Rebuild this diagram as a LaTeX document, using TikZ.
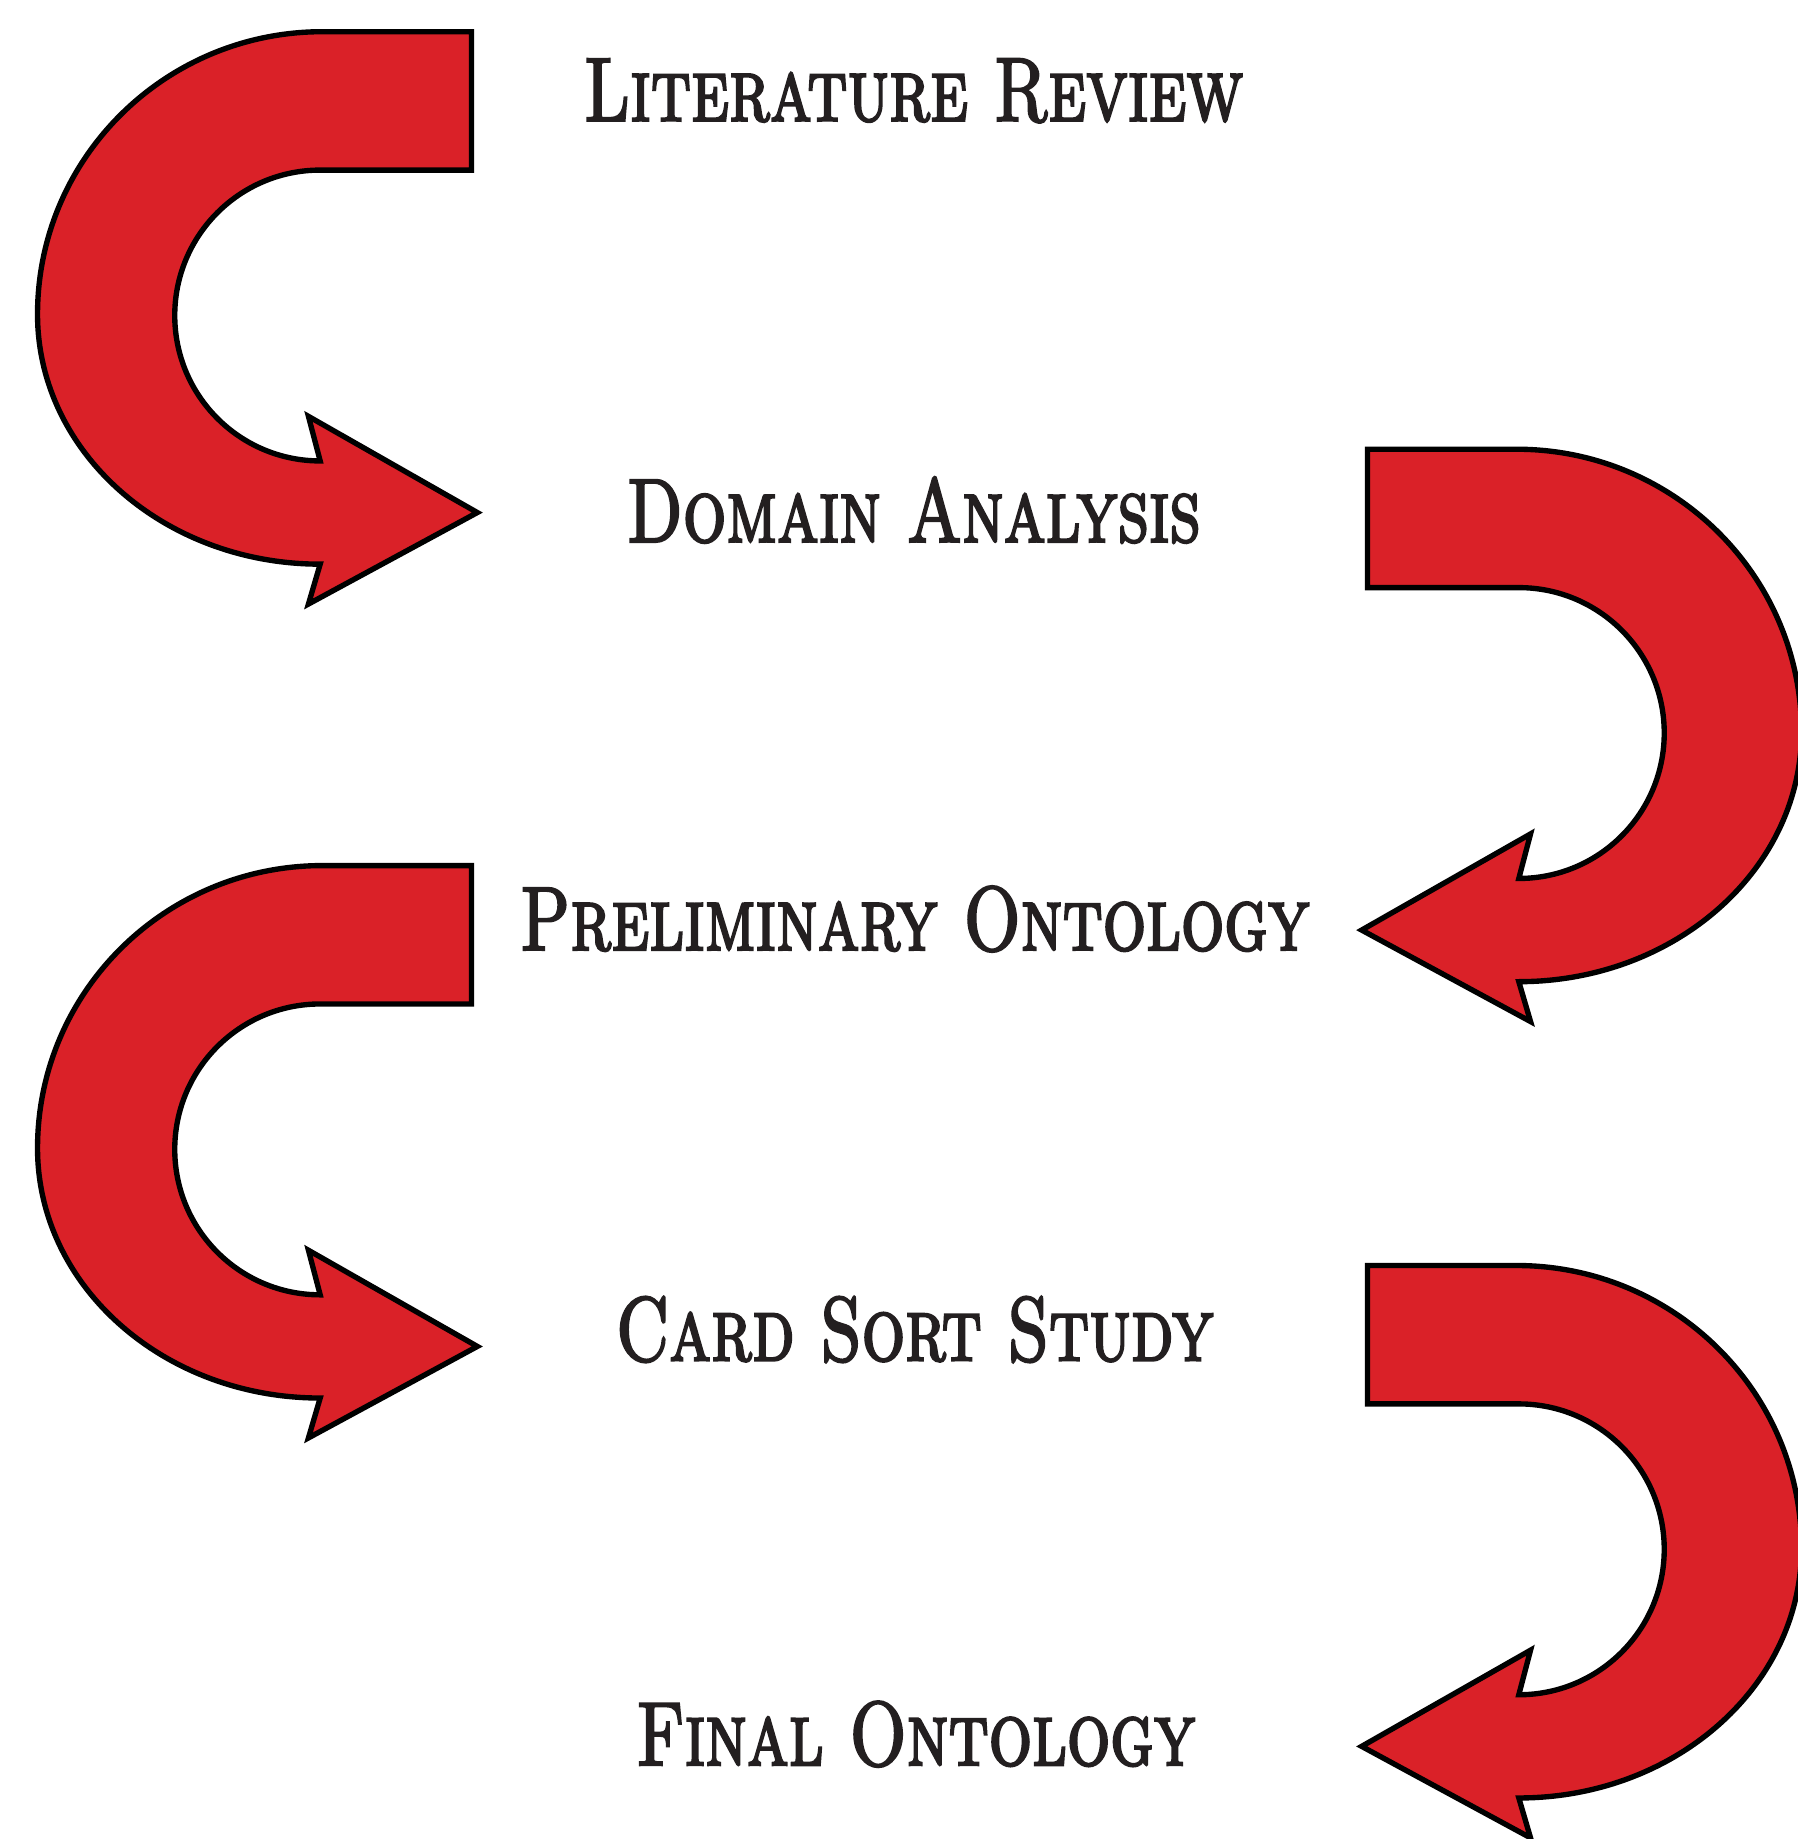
\documentclass[tikz,border=0pt]{standalone}
\usepackage{fontspec}
\newfontfamily\stagefont{lmromancaps10-regular.otf}[FakeStretch=0.75,FakeBold=2.5]
\definecolor{uturnred}{HTML}{DA2128}
\definecolor{inkblack}{HTML}{231F20}

\tikzset{
  stage/.style={inner sep=0pt, anchor=base, text=inkblack,
    font=\stagefont\fontsize{22}{26}\selectfont},
  uturnbody/.style={fill=uturnred, draw=black, line width=1.3pt, line join=miter},
  % u-turn arrow, origin at the middle of the open end of the bar
  uturn/.pic={
    \draw[uturnbody] (0,59) -- (-127,59)
      arc[start angle=90, end angle=180, x radius=243, y radius=241]
      arc[start angle=180, end angle=270, x radius=241, y radius=213]
      -- (-139,-429) -- (5,-351) -- (-139,-269) -- (-129,-307)
      arc[start angle=-90, end angle=-270, radius=124]
      -- (0,-59) -- cycle;
  }
}

\begin{document}
\begin{tikzpicture}[x=0.01cm, y=0.01cm]
\useasboundingbox (0,0) rectangle (1533,-1568);
% steps
\node[stage] (lit) at (779,-103) {Literature Review};
\node[stage] (dom) at (779,-462) {Domain Analysis};
\node[stage] (pre) at (780,-810) {Preliminary Ontology};
\node[stage] (card) at (780,-1160) {Card Sort Study};
\node[stage] (fin) at (781,-1505) {Final Ontology};
% arrows
\pic at (402,-86) {uturn};
\pic[xscale=-1] at (1166,-442) {uturn};
\pic at (402,-797) {uturn};
\pic[xscale=-1] at (1166,-1138) {uturn};
\end{tikzpicture}
\end{document}
